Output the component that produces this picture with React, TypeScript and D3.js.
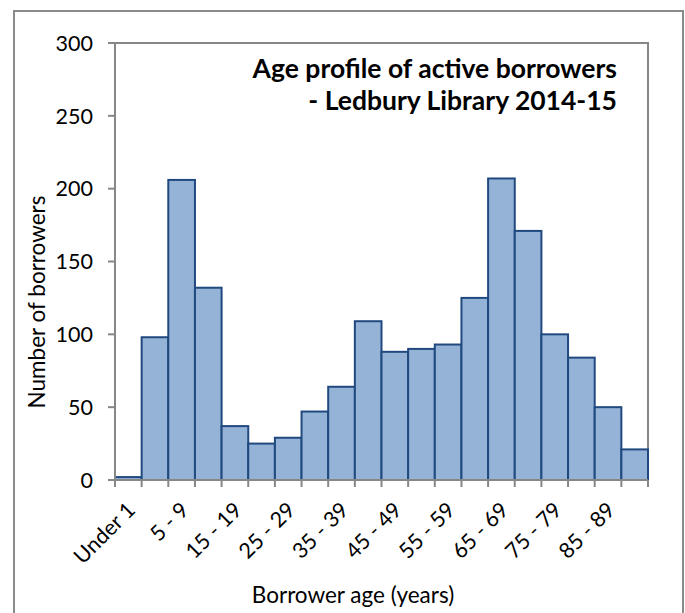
import React from "react";
import * as d3 from "d3";

const categories = [
  "Under 1", "1 - 4", "5 - 9", "10 - 14", "15 - 19", "20 - 24", "25 - 29",
  "30 - 34", "35 - 39", "40 - 44", "45 - 49", "50 - 54", "55 - 59",
  "60 - 64", "65 - 69", "70 - 74", "75 - 79", "80 - 84", "85 - 89", "90+",
];
const borrowers = [2, 98, 206, 132, 37, 25, 29, 47, 64, 109, 88, 90, 93, 125, 207, 171, 100, 84, 50, 21];
const yTicks = [0, 50, 100, 150, 200, 250, 300];
const titleLines = ["Age profile of active borrowers", "- Ledbury Library 2014-15"];

const W = 685;
const H = 613;
const plot = { left: 115, right: 648, top: 43, bottom: 480 };
const FONT = "Lato, 'Open Sans', sans-serif";
const AXIS = "#878787";

export default function App() {
  const x = d3.scaleBand<string>().domain(categories).range([plot.left, plot.right]).padding(0);
  const y = d3.scaleLinear().domain([0, 300]).range([plot.bottom, plot.top]);
  const bw = x.bandwidth();
  const boundaries = d3.range(categories.length + 1).map((i) => plot.left + i * bw);

  return (
    <svg
      width={W}
      height={H}
      style={{ position: "absolute", left: 0, top: 0, background: "#fff" }}
      fontFamily={FONT}
    >
      <rect x={14} y={11} width={669} height={640} fill="#fff" stroke="#8a8a8a" strokeWidth={2} />

      {/* plot border */}
      <rect
        x={plot.left}
        y={plot.top}
        width={plot.right - plot.left}
        height={plot.bottom - plot.top}
        fill="none"
        stroke={AXIS}
        strokeWidth={2}
      />

      {/* bars */}
      {categories.map((c, i) => (
        <rect
          key={c}
          x={x(c)!}
          y={y(borrowers[i])}
          width={bw}
          height={y(0) - y(borrowers[i])}
          fill="#95B3D7"
          stroke="#20497F"
          strokeWidth={2}
        />
      ))}

      {/* y axis */}
      <line x1={plot.left} x2={plot.left} y1={plot.top} y2={plot.bottom} stroke={AXIS} strokeWidth={2} />
      {yTicks.map((t) => (
        <g key={t}>
          <line x1={plot.left - 7} x2={plot.left} y1={y(t)} y2={y(t)} stroke={AXIS} strokeWidth={2} />
          <text x={93} y={y(t)} dy="0.36em" textAnchor="end" fontSize={21.5} fill="#000">
            {t}
          </text>
        </g>
      ))}

      {/* x axis */}
      <line x1={plot.left} x2={plot.right} y1={plot.bottom} y2={plot.bottom} stroke={AXIS} strokeWidth={2} />
      {boundaries.map((bx, i) => (
        <line key={i} x1={bx} x2={bx} y1={plot.bottom} y2={plot.bottom + 7} stroke={AXIS} strokeWidth={2} />
      ))}
      {categories.map((c, i) =>
        i % 2 === 0 ? (
          <text
            key={c}
            transform={`translate(${x(c)! + bw / 2 + 3},${plot.bottom + 26}) rotate(-45)`}
            dy="0.35em"
            textAnchor="end"
            fontSize={21.5}
            fill="#000"
          >
            {c}
          </text>
        ) : null
      )}

      {/* axis titles */}
      <text
        transform={`translate(45,302) rotate(-90)`}
        textAnchor="middle"
        fontSize={22.5}
        fill="#000"
      >
        Number of borrowers
      </text>
      <text x={353} y={603} textAnchor="middle" fontSize={22.5} fill="#000">
        Borrower age (years)
      </text>

      {/* title */}
      {titleLines.map((l, i) => (
        <text key={i} x={617} y={78 + i * 32} textAnchor="end" fontSize={26.5} fontWeight="bold" fill="#000">
          {l}
        </text>
      ))}
    </svg>
  );
}
